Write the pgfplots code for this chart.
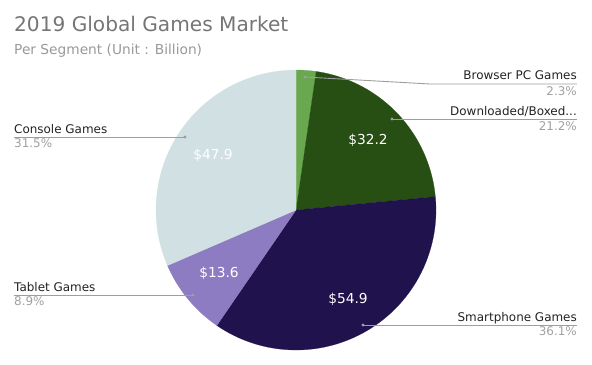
\documentclass[border=0pt]{standalone}
\usepackage{pgfplots}
\pgfplotsset{compat=1.18}
\usepackage{fontspec}
\setmainfont{DejaVu Sans}
\definecolor{cBrowser}{HTML}{6AA84F}
\definecolor{cDown}{HTML}{274E13}
\definecolor{cSmart}{HTML}{20124D}
\definecolor{cTablet}{HTML}{8E7CC3}
\definecolor{cConsole}{HTML}{D0E0E3}
\definecolor{cTitle}{HTML}{757575}
\definecolor{cSub}{HTML}{999999}
\definecolor{cLab}{HTML}{222222}
\definecolor{cPct}{HTML}{A0A0A0}
\definecolor{cLine}{HTML}{9E9E9E}
% values (Billion USD)
\def\vBrowser{3.5}
\def\vDown{32.2}
\def\vSmart{54.9}
\def\vTablet{13.6}
\def\vConsole{47.9}
\pgfmathsetmacro\tot{\vBrowser+\vDown+\vSmart+\vTablet+\vConsole}
\pgfmathsetmacro\aA{-90}
\pgfmathsetmacro\aB{\aA+\vBrowser/\tot*360}
\pgfmathsetmacro\aC{\aB+\vDown/\tot*360}
\pgfmathsetmacro\aD{\aC+\vSmart/\tot*360}
\pgfmathsetmacro\aE{\aD+\vTablet/\tot*360}
\pgfmathsetmacro\aF{\aE+\vConsole/\tot*360}
\begin{document}
\begin{tikzpicture}
\useasboundingbox (0,0) rectangle (592bp,365bp);
\begin{axis}[at={(0,0)}, anchor=south west, width=592bp, height=365bp, scale only axis,
  xmin=0, xmax=592, ymin=0, ymax=365, y dir=reverse, hide axis, clip=false]
\addplot[fill=cBrowser, draw=cBrowser, line width=0.2pt, domain=\aA:\aB, samples=20, variable=\t]
  ({296+140*cos(\t)},{210+140*sin(\t)}) -- (axis cs:296,210) -- cycle;
\addplot[fill=cDown, draw=cDown, line width=0.2pt, domain=\aB:\aC, samples=60, variable=\t]
  ({296+140*cos(\t)},{210+140*sin(\t)}) -- (axis cs:296,210) -- cycle;
\addplot[fill=cSmart, draw=cSmart, line width=0.2pt, domain=\aC:\aD, samples=90, variable=\t]
  ({296+140*cos(\t)},{210+140*sin(\t)}) -- (axis cs:296,210) -- cycle;
\addplot[fill=cTablet, draw=cTablet, line width=0.2pt, domain=\aD:\aE, samples=30, variable=\t]
  ({296+140*cos(\t)},{210+140*sin(\t)}) -- (axis cs:296,210) -- cycle;
\addplot[fill=cConsole, draw=cConsole, line width=0.2pt, domain=\aE:\aF, samples=80, variable=\t]
  ({296+140*cos(\t)},{210+140*sin(\t)}) -- (axis cs:296,210) -- cycle;
% value labels
\tikzset{val/.style={anchor=center, text=white, inner sep=0, font=\fontsize{13.8}{15}\selectfont}}
\node[val] at (axis cs:213,155) {\$47.9};
\node[val] at (axis cs:368,140) {\$32.2};
\node[val] at (axis cs:219,273) {\$13.6};
\node[val] at (axis cs:348,299) {\$54.9};
% leader lines
\tikzset{lead/.style={draw=cLine, line width=0.9bp}}
\draw[lead] (axis cs:305,77) -- (axis cs:430,84) -- (axis cs:577,84);
\fill[cLine] (axis cs:305,77) circle (1.6bp);
\draw[lead] (axis cs:392,119) -- (axis cs:577,119);
\fill[cLine] (axis cs:392,119) circle (1.6bp);
\draw[lead] (axis cs:14,137) -- (axis cs:185,137);
\fill[cLine] (axis cs:185,137) circle (1.6bp);
\draw[lead] (axis cs:14,295) -- (axis cs:193,295);
\fill[cLine] (axis cs:193,295) circle (1.6bp);
\draw[lead] (axis cs:363,325) -- (axis cs:577,325);
\fill[cLine] (axis cs:363,325) circle (1.6bp);
% category labels
\tikzset{lab/.style={text=cLab, inner sep=0, font=\fontsize{12}{13}\selectfont},
         pct/.style={text=cPct, inner sep=0, font=\fontsize{12}{13}\selectfont}}
\node[lab, anchor=base east] at (axis cs:577,80) {Browser PC Games};
\node[pct, anchor=base east] at (axis cs:577,95) {2.3\%};
\node[lab, anchor=base east] at (axis cs:577,115) {Downloaded/Boxed...};
\node[pct, anchor=base east] at (axis cs:577,130) {21.2\%};
\node[lab, anchor=base east] at (axis cs:577,321) {Smartphone Games};
\node[pct, anchor=base east] at (axis cs:577,335) {36.1\%};
\node[lab, anchor=base west] at (axis cs:14,133) {Console Games};
\node[pct, anchor=base west] at (axis cs:14,147) {31.5\%};
\node[lab, anchor=base west] at (axis cs:14,291) {Tablet Games};
\node[pct, anchor=base west] at (axis cs:14,305) {8.9\%};
% titles
\node[anchor=base west, inner sep=0, text=cTitle, font=\fontsize{20.2}{24}\selectfont] at (axis cs:14,32) {2019 Global Games Market};
\node[anchor=base west, inner sep=0, text=cSub, font=\fontsize{13.8}{15}\selectfont] at (axis cs:14,55) {Per Segment (Unit : Billion)};
\end{axis}
\end{tikzpicture}
\end{document}
